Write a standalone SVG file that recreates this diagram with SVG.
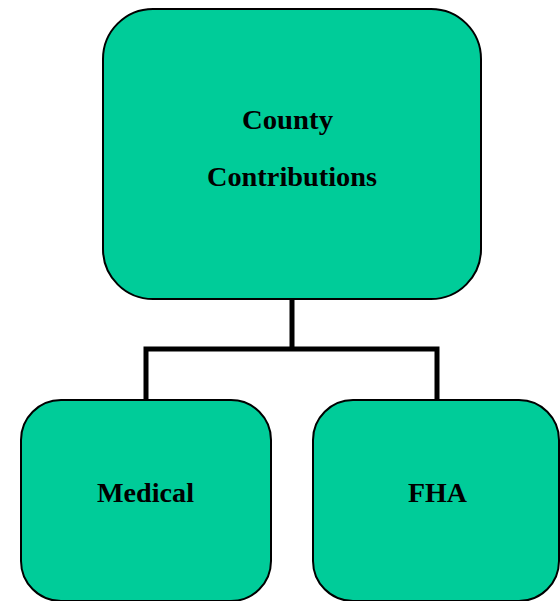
<svg xmlns="http://www.w3.org/2000/svg" width="560" height="601" viewBox="0 0 560 601">
<style>
.box{fill:#00CC99;stroke:#000;stroke-width:2}
.lbl{font-family:"Liberation Serif",serif;font-size:27px;font-weight:bold;fill:#000}
.conn{fill:none;stroke:#000;stroke-width:5}
</style>
<rect width="560" height="601" fill="#fff"/>
<g id="connectors">
<path class="conn" d="M292,299 V349 M146,400 V349 H437 V400"/>
</g>
<g id="county">
<rect class="box" x="103" y="9" width="378" height="290" rx="50" ry="50"/>
<text class="lbl" x="242" y="129" textLength="91" lengthAdjust="spacingAndGlyphs">County</text>
<text class="lbl" x="207" y="186" textLength="170" lengthAdjust="spacingAndGlyphs">Contributions</text>
</g>
<g id="medical">
<rect class="box" x="21" y="400" width="250" height="201" rx="40" ry="40"/>
<text class="lbl" x="97" y="502" textLength="97" lengthAdjust="spacingAndGlyphs">Medical</text>
</g>
<g id="fha">
<rect class="box" x="313" y="400" width="246" height="201" rx="40" ry="40"/>
<text class="lbl" x="408" y="502" textLength="59" lengthAdjust="spacingAndGlyphs">FHA</text>
</g>
</svg>
